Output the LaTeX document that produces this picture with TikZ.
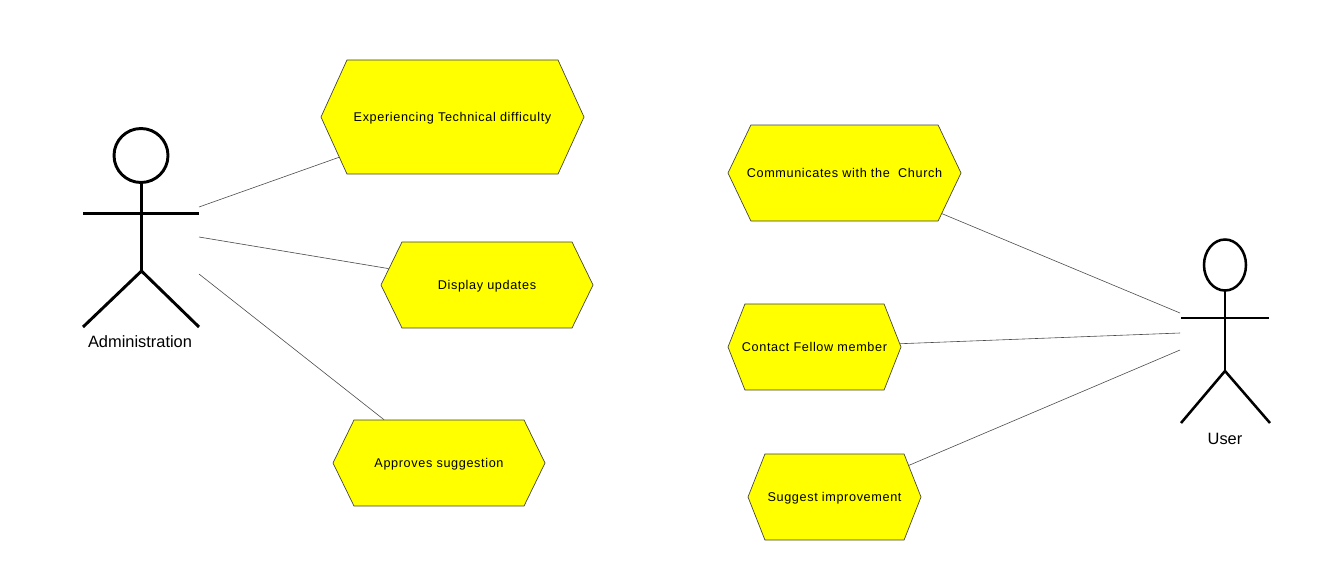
\documentclass[tikz,border=0pt]{standalone}
\usepackage{fontspec}
\setmainfont{Liberation Sans}
\newfontfamily\casefont[LetterSpace=5]{Liberation Sans}
\usetikzlibrary{shapes.symbols}
\definecolor{caseyellow}{RGB}{255,255,0}
\tikzset{
    usecase/.style={shape=signal, signal to=east and west, draw=black!75, fill=caseyellow, line width=.5pt, inner ysep=0pt, inner xsep=-30pt, text depth=0pt, font=\casefont\fontsize{9.5}{11}\selectfont},
    actorline/.style={color=black, line width=2.2pt},
    assoc/.style={color=black!70, line width=.45pt},
    actorlabel/.style={font=\fontsize{12.3}{14}\selectfont, inner sep=0pt}
}
\begin{document}
\begin{tikzpicture}[x=.75pt, y=-.75pt]
    \useasboundingbox (0,0) rectangle (1320,567);

    \node[usecase, minimum width=197.25pt, minimum height=85.5pt, signal pointer angle=131] (technical) at (452.5,117) {Experiencing Technical difficulty};
    \node[usecase, minimum width=159pt, minimum height=64.5pt, signal pointer angle=128] (updates) at (487,285) {Display updates};
    \node[usecase, minimum width=159pt, minimum height=64.5pt, signal pointer angle=128] (approves) at (439,463) {Approves suggestion};
    \node[usecase, minimum width=174.75pt, minimum height=72pt, signal pointer angle=129] (church) at (844.5,173) {Communicates with the\ \ Church};
    \node[usecase, minimum width=129.75pt, minimum height=64.5pt, signal pointer angle=137] (fellow) at (814.5,347) {Contact Fellow member};
    \node[usecase, minimum width=129.75pt, minimum height=64.5pt, signal pointer angle=137] (improve) at (834.5,497) {Suggest improvement};

    \draw[actorline] (141,155.5) circle (27);
    \draw[actorline] (83,213.5) -- (199,213.5);
    \draw[actorline] (141.5,183) -- (141.5,271);
    \draw[actorline] (83,327) -- (141.5,271) -- (199,327);
    \node[actorlabel] (admin) at (140,341.5) {Administration};

    \draw[actorline, line width=1.9pt] (1225,265) ellipse (21 and 25.5);
    \draw[actorline, line width=1.9pt] (1181,318) -- (1269,318);
    \draw[actorline, line width=1.9pt] (1225,291) -- (1225,371);
    \draw[actorline, line width=1.9pt] (1181,423) -- (1225,371) -- (1270,423);
    \node[actorlabel] (user) at (1225,438.5) {User};

    \coordinate (adminA) at (199,207);
    \coordinate (adminB) at (199,237);
    \coordinate (adminC) at (199,274);
    \coordinate (userA) at (1180,313);
    \coordinate (userB) at (1180,333);
    \coordinate (userC) at (1180,350);

    \draw[assoc] (adminA) -- (technical);
    \draw[assoc] (adminB) -- (updates);
    \draw[assoc] (adminC) -- (approves);
    \draw[assoc] (userA) -- (church);
    \draw[assoc] (userB) -- (fellow);
    \draw[assoc] (userC) -- (improve);
\end{tikzpicture}
\end{document}
